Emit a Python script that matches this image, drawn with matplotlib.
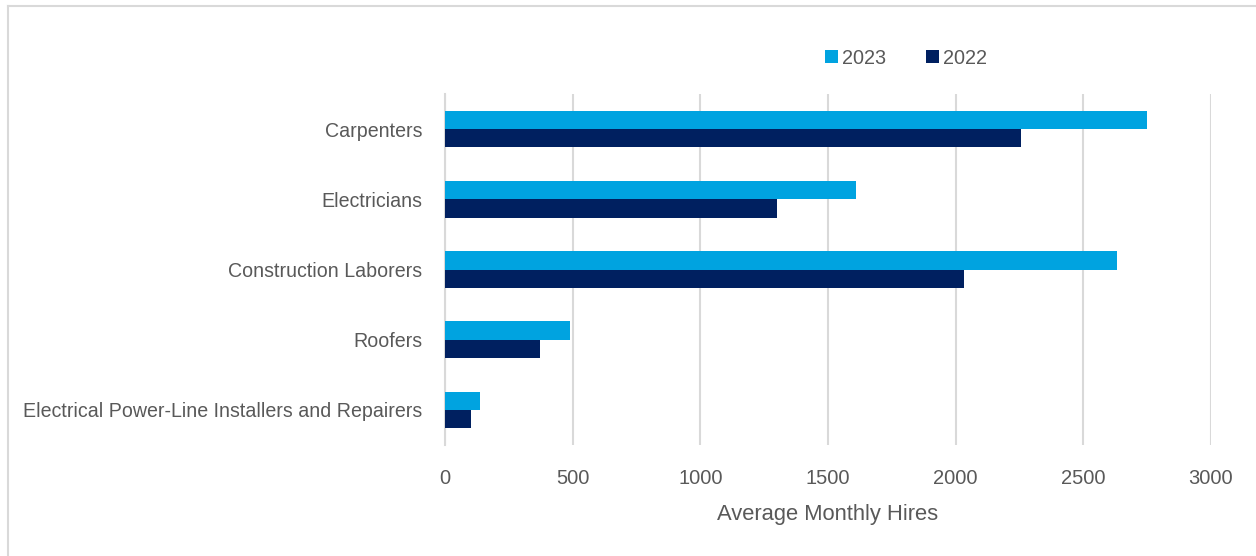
import numpy as np
import matplotlib.pyplot as plt
from matplotlib.lines import Line2D

# data
occupations = ['Carpenters', 'Electricians', 'Construction Laborers', 'Roofers',
               'Electrical Power-Line Installers and Repairers']
hires_2023 = [2749, 1611, 2631, 488, 139]
hires_2022 = [2254, 1300, 2034, 374, 103]
xticks = [0, 500, 1000, 1500, 2000, 2500, 3000]

c2023 = '#00A3E0'
c2022 = '#002060'
grey = '#595959'

plt.rcParams['font.family'] = ['Liberation Sans', 'DejaVu Sans']

fig = plt.figure(figsize=(12.56, 5.56), dpi=100)
ax = fig.add_axes([445 / 1256, 1 - 445 / 556, (1211 - 445) / 1256, (445 - 94) / 556])

y = np.arange(len(occupations))
h = 0.26
ax.barh(y - h / 2, hires_2023, height=h, color=c2023, label='2023', zorder=3)
ax.barh(y + h / 2, hires_2022, height=h, color=c2022, label='2022', zorder=3)

ax.set_ylim(len(occupations) - 0.5, -0.5)
ax.set_yticks(y)
ax.set_yticklabels(occupations, fontsize=14.1, color=grey)
ax.set_xlim(0, 3000)
ax.set_xticks(xticks)
ax.set_xticklabels([str(t) for t in xticks], fontsize=14.5, color=grey)
ax.tick_params(axis='both', length=0)
ax.tick_params(axis='x', pad=17)
ax.tick_params(axis='y', pad=16.5)
ax.grid(axis='x', color='#D9D9D9', linewidth=1.5, zorder=0)
for s in ['top', 'right', 'bottom']:
    ax.spines[s].set_visible(False)
ax.spines['left'].set_color('#D9D9D9')
ax.spines['left'].set_linewidth(1.5)
ax.set_xlabel('Average Monthly Hires', fontsize=15.8, color=grey, labelpad=12)

leg = fig.legend(loc='center', bbox_to_anchor=(906 / 1256, 1 - 58 / 556), ncol=2,
                 frameon=False, fontsize=14.3, handlelength=0.65, handleheight=0.65,
                 handletextpad=0.2, columnspacing=2.0)
for t in leg.get_texts():
    t.set_color(grey)

# light border on the left and top (chart is cropped on the other sides)
fig.add_artist(Line2D([7.5 / 1256, 7.5 / 1256], [0, 1 - 5.5 / 556],
                      transform=fig.transFigure, color='#D9D9D9', linewidth=1.5))
fig.add_artist(Line2D([7.5 / 1256, 1], [1 - 5.5 / 556, 1 - 5.5 / 556],
                      transform=fig.transFigure, color='#D9D9D9', linewidth=1.5))

plt.savefig('out.png', dpi=100)
